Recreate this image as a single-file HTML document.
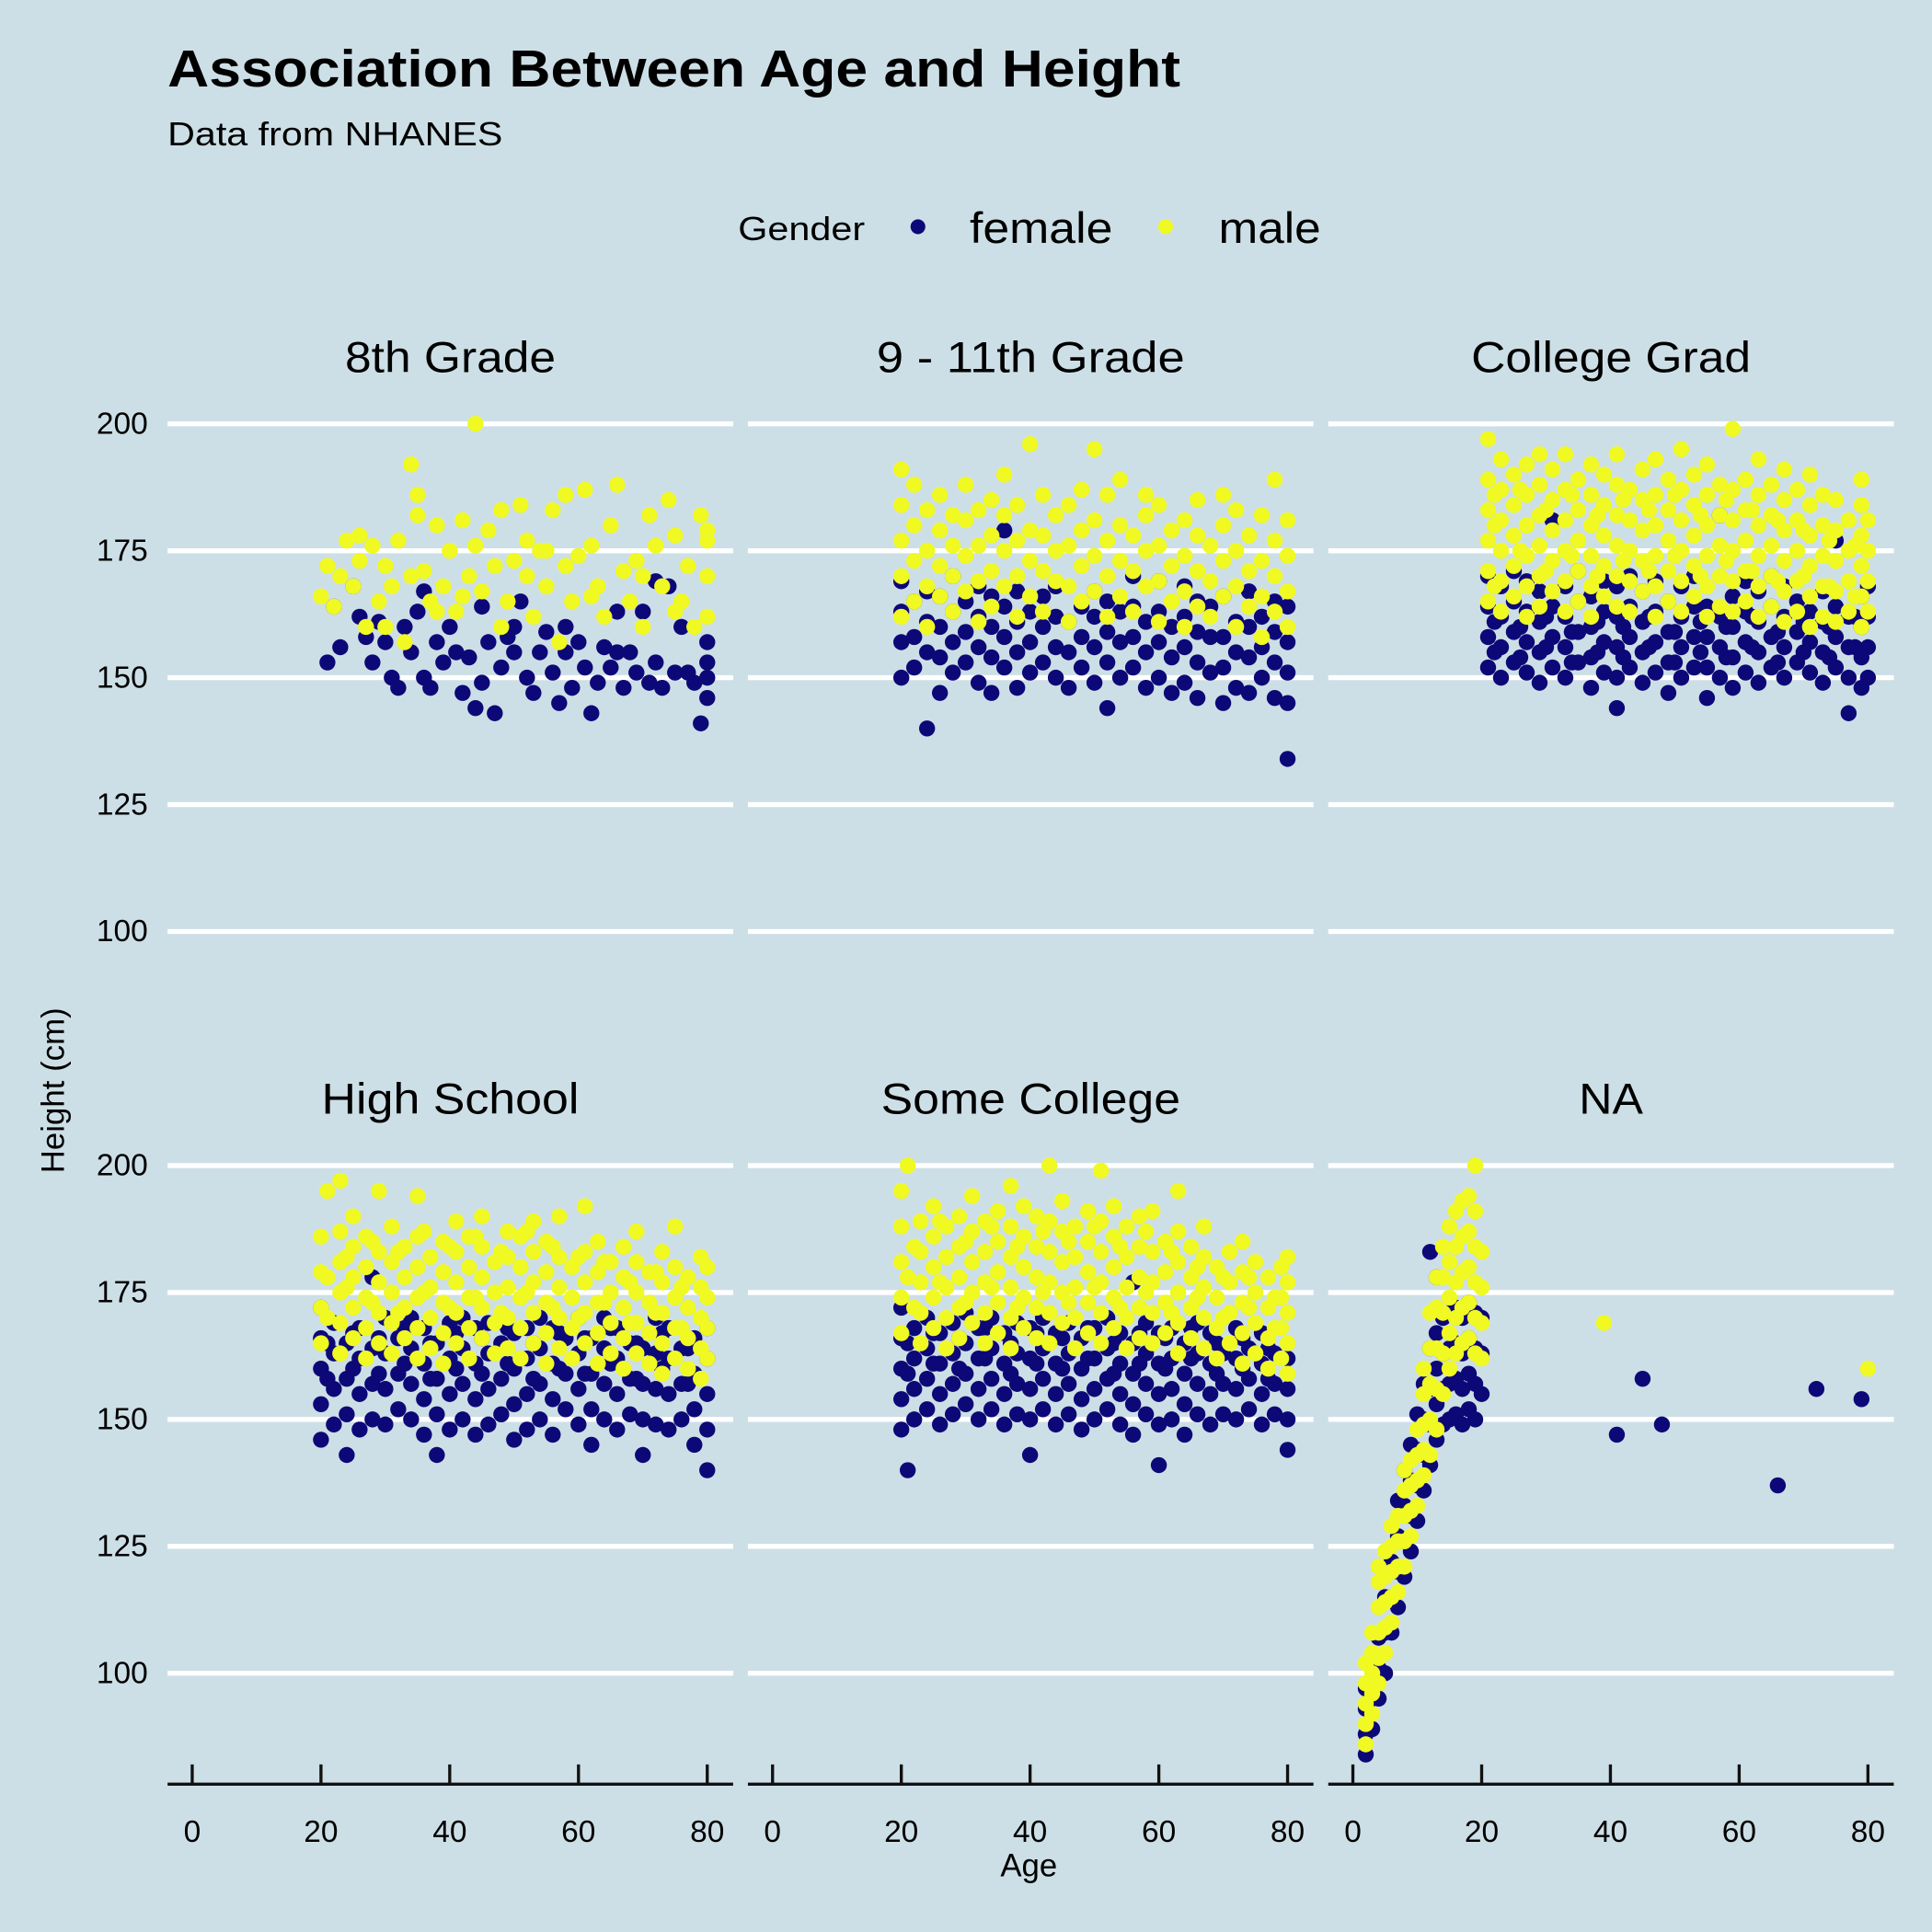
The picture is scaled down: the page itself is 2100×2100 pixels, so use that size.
<!DOCTYPE html>
<html><head><meta charset="utf-8"><style>
html,body{margin:0;padding:0;background:#cddfe6;}
svg{display:block;font-family:"Liberation Sans",Arial,sans-serif;}
</style></head><body>
<svg id="chart" width="2100" height="2100" viewBox="0 0 1568 1568" xmlns="http://www.w3.org/2000/svg">
<rect x="0" y="0" width="1568" height="1568" fill="#cddfe6"/>
<text x="136" y="70" font-size="42" font-weight="bold" textLength="822" lengthAdjust="spacingAndGlyphs">Association Between Age and Height</text>
<text x="136" y="118" font-size="27" textLength="272" lengthAdjust="spacingAndGlyphs">Data from NHANES</text>
<g>
<text x="599" y="195" font-size="27" textLength="103" lengthAdjust="spacingAndGlyphs">Gender</text>
<circle cx="745" cy="184" r="6" fill="#0d0877"/>
<text x="787" y="197" font-size="35" textLength="116" lengthAdjust="spacingAndGlyphs">female</text>
<circle cx="946" cy="184" r="6" fill="#f0f921"/>
<text x="989" y="197" font-size="35" textLength="83" lengthAdjust="spacingAndGlyphs">male</text>
</g>
<text x="52" y="885" font-size="26" text-anchor="middle" transform="rotate(-90 52 885)">Height (cm)</text>
<text x="835" y="1523" font-size="26" text-anchor="middle">Age</text>
<g id="plots"></g>
</svg>
<script>
const panelNames = ["8th Grade","9 - 11th Grade","College Grad","High School","Some College","NA"];
const stripWidths = [171,250,227,209,243,52];
const yTicks = [100,125,150,175,200];
const xTicks = [0,20,40,60,80];
const femaleData = [
["21:153","22:164","23:156","25:168","26:162","27:158","28:153","29:161","30:157","31:150","32:148","33:160","34:155","35:163","36:150 167","37:148","38:157","39:153","40:160","41:155","42:147","43:154","44:144","45:149 164","46:157","47:143","48:152","49:158","50:155 160","51:165","52:150","53:147","54:155","55:159","56:151","57:145","58:155 160","59:148","60:157","61:152","62:143","63:149","64:156","65:152","66:163 155","67:148","68:155","69:151","70:163","71:149","72:153 169","73:148","74:168","75:151","76:160","77:151","78:149","79:141","80:157 150 146 153"],
["20:150 157 163 169","22:152 158 165","24:140 155 161 167","26:147 154 160 166","28:151 157 163 170","30:153 159 165","32:149 156 162 168","34:147 154 160 166","36:152 158 164 179","38:148 155 161 167","40:151 157 163","42:153 160 166","44:150 156 162 168","46:148 155 161","48:152 158 164","50:149 156 162 167","52:144 153 159 165","54:150 157 163","56:152 158 164 170","58:148 155 161","60:150 157 163 169","62:147 154 160","64:149 156 162 168","66:146 153 159 165","68:151 158 164","70:145 152 158 166","72:148 155 161","74:147 154 160 167","76:150 156 162","78:146 153 159 165","80:134 145 151 157 164"],
["21:152 158 164 170","23:150 156 162 168","25:153 159 165 171","27:151 157 163 169","29:149 155 161 167","31:152 158 164 181","33:150 156 162 168","35:153 159 165 171","37:148 154 160 166","39:151 157 163 169","41:144 150 156 162 168","43:152 158 164 170","45:149 155 161 167","47:151 157 163 169","49:147 153 159 165","51:150 156 162 168","53:152 158 164 170","55:146 152 158 164","57:150 156 162 182","59:148 154 160 166","61:151 157 163 169","63:149 155 161 167","65:152 158 164 170","67:150 156 162 168","69:153 159 165","71:151 157 163","73:149 155 161 167","75:152 158 164 177","77:143 150 156 162","79:148 154 160 166","80:150 156 162 168","22:155 161","26:154 160","30:156 162","34:153 159","38:155 161","42:154 160","46:156 162","50:153 159","54:155 161","58:154 160","62:156 162","66:153 159","70:155 161","74:154 160","78:156 162"],
["20:146 153 160 166 172","22:149 156 163 169","24:143 151 158 165","26:148 155 162 168","28:150 157 164 178","30:149 156 163 170","32:152 159 166","34:150 157 164 170","36:147 154 161 168","38:143 151 158 165","40:148 155 162 169","42:150 157 164 170","44:147 154 161 168","46:149 156 163 169","48:151 158 165","50:146 153 160 167","52:148 155 162 168","54:150 157 164 170","56:147 154 161 168","58:152 159 166","60:149 156 163 170","62:145 152 159 166","64:150 157 164 170","66:148 155 162 168","68:151 158 165","70:143 150 157 164","72:149 156 163 170","74:148 155 162 168","76:150 157 164","78:145 152 159 166","80:140 148 155 162 168","21:158 165","25:160 167","29:159 166","33:161 168","37:158 165","41:160 167","45:159 166","49:161 168","53:158 165","57:160 167","61:159 166","65:161 168","69:158 165","73:160 167","77:157 164"],
["20:148 154 160 166 172","22:150 156 162 168","24:152 158 164 170","26:149 155 161 167","28:151 157 163 169","30:153 159 165 171","32:150 156 162 168","34:152 158 164 170","36:149 155 161 167","38:151 157 163 169","40:143 150 156 162 168","42:152 158 164 170","44:149 155 161 167","46:151 157 163 169","48:148 154 160 166","50:150 156 162 168","52:152 158 164 170","54:149 155 161 167","56:147 153 159 165 177","58:151 157 163 169","60:141 149 155 161 167","62:150 156 162 168","64:147 153 159 165","66:151 157 163 169","68:149 155 161 167","70:151 157 163","72:150 156 162 168","74:152 158 164","76:149 155 161 167","78:151 157 163","80:144 150 156 162","21:140 159 165","25:161 167","29:160 166","33:162 168","37:159 165","41:161 167","45:160 166","49:162 168","53:159 165","57:161 167","61:160 166","65:162 168","69:159 165","73:160 166","77:158 164"],
["2:84 88 93 97","3:89 95 101","4:95 101 107","5:100 108 115","6:108 115 122","7:113 120 127 134","8:119 126 133 140","9:124 131 138 145","10:130 137 144 151","11:136 143 150 157","12:141 149 156 164 183","13:146 153 160 167 178","14:149 156 163 170","15:150 157 164 171","16:151 158 165 172","17:149 156 163 170","18:152 159 166 173","19:150 157 164 171","20:155 163 170","41:147","45:158","48:149","66:137","72:156","79:154"]
];
const maleData = [
["20:166","21:172","22:164","23:170","24:177","25:168","26:173 178","27:160","28:176","29:165","30:172 160","31:168","32:177","33:157","34:192 170","35:186 182","36:171","37:165","38:180 163","39:168","40:175","41:163","42:181 166","43:170","44:200 176","45:167","46:179","47:172","48:183 160","49:165","50:173","51:184","52:170 177","53:162","54:175","55:168 175","56:183","57:157","58:186 172","59:165","60:174","61:187","62:176 166","63:168","64:162","65:180","66:188","67:171","68:165","69:173","70:160 170","71:182","72:176","73:168","74:185","75:178 163","76:165","77:172","78:160","79:182","80:177 170 162 179"],
["20:162 170 177 184 191","22:165 173 180 188","24:160 168 175 183","26:166 172 179 186","28:163 170 176 182","30:167 174 181 188","32:161 169 176 183","34:164 171 178 185","36:168 175 182 190","38:162 170 177 184","40:166 173 179 196","42:163 171 178 186","44:169 175 182","46:161 168 176 184","48:165 172 179 187","50:167 174 181 195","52:162 170 177 186","54:166 173 180 189","56:163 171 178","58:168 175 182 186","60:161 169 176 184","62:165 172 179","64:160 167 174 181","66:164 171 178 185","68:162 169 176","70:166 173 180 186","72:160 168 175 183","74:164 171 178","76:158 166 173 182","78:163 170 177 189","80:160 167 174 181"],
["21:165 171 177 183 189 197","23:163 169 175 181 187 193","25:166 172 178 184 190","27:162 168 174 180 186 192","29:164 170 176 182 188 194","31:167 173 179 185 191","33:163 169 175 181 187 194","35:165 171 177 183 189","37:162 168 174 180 186 192","39:166 172 178 184 190","41:164 170 176 182 188 194","43:163 169 175 181 187","45:167 173 179 185 191","47:162 168 174 180 186 193","49:165 171 177 183 189","51:163 169 175 181 187 195","53:166 172 178 184 190","55:162 168 174 180 186 192","57:164 170 176 182 188","59:163 169 175 181 187 199","61:165 171 177 183 189","63:162 168 174 180 186 193","65:164 170 176 182 188","67:161 167 173 179 185 191","69:163 169 175 181 187","71:160 166 172 178 184 190","73:162 168 174 180 186","75:161 167 173 179 185","77:163 169 175 181","79:160 166 172 178 184 189","80:163 169 175 181","22:168 180 186","26:175 187","30:171 183","34:174 186","38:170 182","42:173 185","46:171 183","50:174 186","54:170 182","58:173 185","62:171 183","66:169 181","70:170 179","74:168 177","78:166 176"],
["20:165 172 179 186","21:170 178 195","23:163 169 175 181 187 197","25:166 172 178 184 190","27:162 168 174 180 186","29:165 171 177 183 195","31:163 169 175 181 188","33:166 172 178 184","35:162 168 174 180 186 194","37:164 170 176 182","39:161 167 173 179 185","41:165 171 177 183 189","43:162 168 174 180 186","45:166 172 178 184 190","47:163 169 175 181","49:164 170 176 182 187","51:162 168 174 180 186","53:165 171 177 183 189","55:161 167 173 179 185","57:164 170 176 182 190","59:162 168 174 180","61:165 171 177 183 192","63:161 167 173 179 185","65:163 169 175 181","67:160 166 172 178 184","69:163 169 175 181 187","71:161 167 173 179","73:159 165 171 177 183","75:162 168 174 180 188","77:160 166 172 178","79:158 164 170 176 182","80:162 168 174 180","24:176 182","28:173 185","32:171 183","36:175 187","40:172 184","44:174 186","48:171 183","52:175 187","56:172 184","60:170 182","64:173 181","68:169 177","72:171 179","76:168 176"],
["20:167 174 181 188 195","21:200 178","23:165 171 177 183 189","25:168 174 180 186 192","27:164 170 176 182 188","29:166 172 178 184 190","31:169 175 181 187 194","33:165 171 177 183 189","35:167 173 179 185 191","37:164 170 176 182 188 196","39:168 174 180 186 192","41:166 172 178 184 190","43:165 171 177 183 189 200","45:169 175 181 187 193","47:164 170 176 182 188","49:167 173 179 185 191","51:165 171 177 183 189 199","53:168 174 180 186 192","55:164 170 176 182 188","57:166 172 178 184 190","59:165 171 177 183 191","61:167 173 179 185","63:163 169 175 181 187 195","65:166 172 178 184","67:164 170 176 182 188","69:162 168 174 180","71:165 171 177 183","73:161 167 173 179 185","75:163 169 175 181","77:160 166 172 178","79:162 168 174 180","80:159 165 171 177 182","22:172 184","26:177 189","30:173 185","34:176 188","38:172 184","42:175 187","46:173 185","50:176 188","54:172 184","58:175 187","62:171 183","66:174 180","70:170 178","74:172 178","78:168 174"],
["2:86 90 94 98 102","3:92 96 100 104 108","4:98 103 108 113 118 121","5:104 109 114 119 124","6:110 115 120 125 129","7:116 121 126 131","8:121 126 131 136 140","9:127 132 137 142","10:133 138 143 148","11:139 144 149 155 160","12:143 150 157 164 171","13:148 156 164 172 178","14:155 163 171 178 184","15:160 167 174 181 188","16:163 170 177 184 191","17:165 172 179 186 193","18:166 173 180 187 194","19:163 170 177 184 191 200","20:162 169 176 183","39:169","80:160"]
];
const NS = "http://www.w3.org/2000/svg";
const plots = document.getElementById('plots');
function xScale(c, age){ return 156 + c*471 + age*5.225; }
function yScale(r, h){ return 344 + r*602 + (200-h)*4.12; }
function mk(tag, attrs){ const e=document.createElementNS(NS,tag); for(const k in attrs) e.setAttribute(k,attrs[k]); return e; }
function parse(list){ const pts=[]; list.forEach(s=>{ const [a,hs]=s.split(':'); hs.trim().split(/\s+/).forEach(h=>pts.push([+a,+h])); }); return pts; }
panelNames.forEach((name,i)=>{
  const c=i%3, r=Math.floor(i/3);
  const g=mk('g',{});
  
  
  plots.appendChild(g);
  const left=136+c*471, right=595+c*471;
  const st=mk('text',{x:(left+right)/2,y:302+r*602,'font-size':35,'text-anchor':'middle',textLength:stripWidths[i],lengthAdjust:'spacingAndGlyphs'});
  
  
  st.textContent=name; g.appendChild(st);
  yTicks.forEach(t=>{
    const y=yScale(r,t);
    const ln=mk('line',{x1:left,x2:right,y1:y,y2:y,stroke:'#ffffff','stroke-width':4});
    
    
    g.appendChild(ln);
    if(c===0){
      const tl=mk('text',{x:120,y:y+8,'font-size':25,'text-anchor':'end'});
      
      
      tl.textContent=t; g.appendChild(tl);
    }
  });
  if(r===1){
    const ax=mk('line',{x1:left,x2:right,y1:1448,y2:1448,stroke:'#111','stroke-width':2.5});
    
    
    g.appendChild(ax);
    xTicks.forEach(t=>{
      const x=xScale(c,t);
      const tk=mk('line',{x1:x,x2:x,y1:1432,y2:1448,stroke:'#111','stroke-width':2.5});
      
      
      g.appendChild(tk);
      const tl=mk('text',{x:x,y:1495,'font-size':25,'text-anchor':'middle'});
      
      
      tl.textContent=t; g.appendChild(tl);
    });
  }
  [[femaleData[i],'#0d0877','female'],[maleData[i],'#f0f921','male']].forEach(([d,col,sex])=>{
    parse(d).forEach(([a,h])=>{
      const p=mk('circle',{cx:xScale(c,a),cy:yScale(r,h),r:6.5,fill:col});
      
      
      g.appendChild(p);
    });
  });
});
</script>
</body></html>
